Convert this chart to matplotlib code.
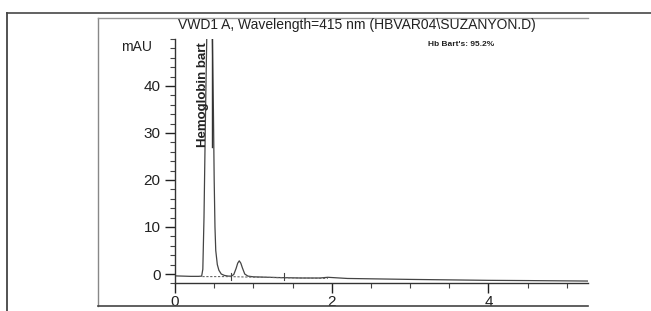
import matplotlib.pyplot as plt
from matplotlib.lines import Line2D
from matplotlib.ticker import MultipleLocator

# retention time (min) and absorbance (mAU)
time = [0.00, 0.10, 0.20, 0.30, 0.34, 0.355, 0.37, 0.39, 0.41, 0.43, 0.45, 0.47,
        0.49, 0.50, 0.51, 0.52, 0.54, 0.56, 0.59, 0.63, 0.68, 0.72, 0.75, 0.78,
        0.80, 0.82, 0.84, 0.86, 0.89, 0.93, 1.00, 1.30, 1.60, 1.85, 1.95, 2.05,
        2.20, 2.60, 3.00, 3.50, 4.00, 4.50, 5.27]
signal = [-0.40, -0.45, -0.50, -0.50, -0.45, 1.0, 12.0, 35.0, 55.0, 62.0, 62.0, 58.0,
          35.0, 20.0, 10.0, 5.0, 2.0, 0.8, 0.0, -0.3, -0.45, -0.45, -0.1, 1.2,
          2.3, 2.8, 2.3, 1.3, 0.0, -0.45, -0.6, -0.75, -0.85, -0.85, -0.70, -0.80,
          -0.95, -1.05, -1.15, -1.25, -1.35, -1.40, -1.50]
# integration baseline
base_t = [0.35, 0.70, 0.93, 1.95]
base_v = [-0.55, -0.55, -0.65, -0.95]
marker_t = [0.71, 1.39]

peak_name = "Hemoglobin bart"
peak_rt = 0.47
title = "VWD1 A, Wavelength=415 nm (HBVAR04\\SUZANYON.D)"
note = "Hb Bart's: 95.2%"
xticks = [0, 2, 4]
yticks = [0, 10, 20, 30, 40]

plt.rcParams['font.family'] = ['Liberation Sans', 'DejaVu Sans']

fig = plt.figure(figsize=(6.51, 3.11), dpi=100)
W, H = 651.0, 311.0

def fx(px):
    return px / W

def fy(py):
    return 1 - py / H

# page frame lines from the scan
fig.add_artist(Line2D([fx(7), fx(651)], [fy(13.3), fy(13.3)], color='#555555', lw=1.3))
fig.add_artist(Line2D([fx(7), fx(7)], [fy(13.3), fy(311)], color='#444444', lw=1.3))
fig.add_artist(Line2D([fx(97.5), fx(97.5)], [fy(18), fy(306)], color='#888888', lw=1.0))
fig.add_artist(Line2D([fx(97.5), fx(588)], [fy(18), fy(18)], color='#999999', lw=1.0))
fig.add_artist(Line2D([fx(97.5), fx(588)], [fy(306), fy(306)], color='#444444', lw=1.2))

ax = fig.add_axes([fx(175), fy(283.4), fx(588 - 175), (283.4 - 39) / H])
ax.plot(time, signal, color='#444444', lw=0.9)
ax.plot(base_t, base_v, color='#666666', lw=0.8, ls=(0, (2, 1.5)))
for t in marker_t:
    ax.plot([t, t], [-1.3, 0.3], color='#444444', lw=0.8)
ax.plot([peak_rt, peak_rt], [27, 50], color='#333333', lw=1.0)
ax.text(peak_rt - 0.11, 27, peak_name, rotation=90, ha='center', va='bottom',
        fontsize=9.5, fontweight='bold', color='#222222')

ax.set_xlim(0, 5.27)
ax.set_ylim(-2, 50)
ax.set_xticks(xticks)
ax.set_yticks(yticks)
ax.xaxis.set_minor_locator(MultipleLocator(0.5))
ax.yaxis.set_minor_locator(MultipleLocator(2))
ax.tick_params(axis='both', which='major', direction='out', length=7, width=1.0,
               labelsize=11, colors='#222222')
ax.tick_params(axis='both', which='minor', direction='out', length=3.5, width=0.8,
               colors='#444444')
ax.tick_params(axis='x', pad=1)
for s in ['top', 'right']:
    ax.spines[s].set_visible(False)
for s in ['left', 'bottom']:
    ax.spines[s].set_color('#333333')
    ax.spines[s].set_linewidth(1.0)
ax.set_facecolor('none')

fig.text(fx(357), fy(25), title, ha='center', va='center', fontsize=10, color='#222222')
fig.text(fx(137), fy(47), "mAU", ha='center', va='center', fontsize=10, color='#222222')
fig.text(fx(461), fy(45), note, ha='center', va='center', fontsize=6,
         fontweight='bold', color='#222222')

fig.savefig("out.png", dpi=100)
